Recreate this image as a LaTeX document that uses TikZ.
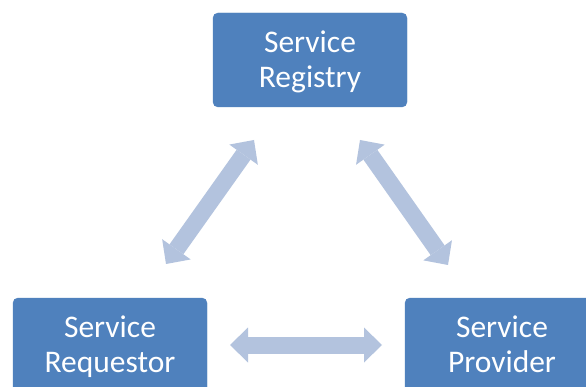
\documentclass[tikz,border=0pt]{standalone}
\usepackage{fontspec}
\setmainfont{Carlito}
\usetikzlibrary{arrows.meta}
\definecolor{boxblue}{HTML}{4F81BD}
\definecolor{arrowblue}{HTML}{B3C3DE}
\tikzset{
  service/.style={rectangle, rounded corners=5pt, fill=boxblue, draw=boxblue,
    minimum width=194pt, minimum height=94pt, inner sep=0pt,
    text=white, align=center, font=\fontsize{31.5}{35}\selectfont},
  flow/.style={draw=arrowblue, line width=17pt,
    {Triangle[length=18pt, width=35pt, line width=0pt]}-{Triangle[length=18pt, width=35pt, line width=0pt]}}
}
\newcommand\twolines[2]{\rule{0pt}{20pt}#1\\\smash{#2}\rule[-2pt]{0pt}{2pt}}
\begin{document}
\begin{tikzpicture}[x=1pt, y=-1pt]
  \useasboundingbox (0,0) rectangle (586,387);
  \clip (0,0) rectangle (586,387);
  \fill[white] (0,0) rectangle (586,387);

  % the three parties
  \node[service] (reg)  at (310,60)  {\twolines{Service}{Registry}};
  \node[service] (req)  at (110,345) {\twolines{Service}{Requestor}};
  \node[service] (prov) at (502,345) {\twolines{Service}{Provider}};

  % ends of the two-way arrows
  \coordinate (rl1) at (166,264);
  \coordinate (rl2) at (254,140);
  \coordinate (rr1) at (360,140);
  \coordinate (rr2) at (448,265);
  \coordinate (h1)  at (230,345);
  \coordinate (h2)  at (382,345);

  \draw[flow] (rl1) -- (rl2);
  \draw[flow] (rr1) -- (rr2);
  \draw[flow] (h1) -- (h2);
\end{tikzpicture}
\end{document}
